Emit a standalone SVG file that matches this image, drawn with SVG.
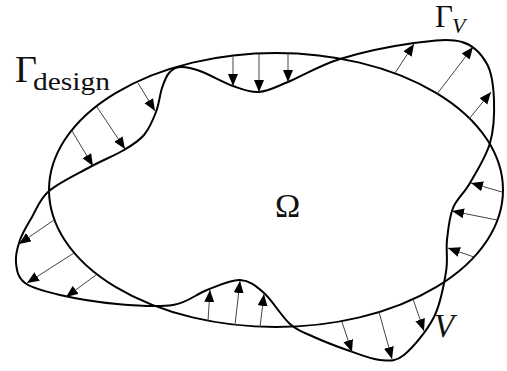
<svg xmlns="http://www.w3.org/2000/svg" width="507" height="371" viewBox="0 0 507 371">
<defs>
<style>
.curve{fill:none;stroke:#000;stroke-width:2}
.arr{stroke:#444;stroke-width:1;fill:none;marker-end:url(#ah)}
.lbl{font-family:"Liberation Serif","DejaVu Serif",serif;fill:#111}
</style>
<marker id="ah" markerUnits="userSpaceOnUse" markerWidth="13" markerHeight="11" refX="12" refY="5" orient="auto">
<path d="M0,0 L12,5 L0,10 Z" fill="#000"/>
</marker>
</defs>
<rect width="507" height="371" fill="#fff"/>
<g id="omega-boundary">
<ellipse class="curve" cx="276" cy="190" rx="227" ry="137"/>
</g>
<g id="perturbed-boundary">
<path class="curve" d="M49,191 C58.67,182.67 77.5,173.83 90,167 C102.5,160.17 115,155.33 124,150 C133,144.67 138.67,141.33 144,135 C149.33,128.67 153,119.83 156,112 C159,104.17 159.83,94.5 162,88 C164.17,81.5 166,76.5 169,73 C172,69.5 174.83,67.33 180,67 C185.17,66.67 191.17,67.83 200,71 C208.83,74.17 223.17,82.5 233,86 C242.83,89.5 249.83,92.67 259,92 C268.17,91.33 274.5,87.5 288,82 C301.5,76.5 319,65.5 340,59 C361,52.5 393.67,45.83 414,43 C434.33,40.17 449.83,38.5 462,42 C474.17,45.5 481.67,54.33 487,64 C492.33,73.67 493.5,86.83 494,100 C494.5,113.17 494,129.17 490,143 C486,156.83 476.17,172.17 470,183 C463.83,193.83 456.83,198.5 453,208 C449.17,217.5 448.17,229.33 447,240 C445.83,250.67 448.17,259.17 446,272 C443.83,284.83 441,303.17 434,317 C427,330.83 413,347.83 404,355 C395,362.17 389.5,360.83 380,360 C370.5,359.17 358,353.83 347,350 C336,346.17 323.5,341.33 314,337 C304.5,332.67 298.33,331.33 290,324 C281.67,316.67 272.33,300.33 264,293 C255.67,285.67 249.5,280.5 240,280 C230.5,279.5 218.17,285.83 207,290 C195.83,294.17 188,302.67 173,305 C158,307.33 135.83,305.67 117,304 C98.17,302.33 75.33,298.5 60,295 C44.67,291.5 32.33,288.33 25,283 C17.67,277.67 16.83,270.17 16,263 C15.17,255.83 17.33,247.67 20,240 C22.67,232.33 27.17,225.17 32,217 C36.83,208.83 39.33,199.33 49,191 Z"/>
</g>
<g id="connectors">
<line class="arr" x1="72" y1="131" x2="93" y2="166"/>
<line class="arr" x1="97" y1="107" x2="125" y2="149"/>
<line class="arr" x1="138" y1="83" x2="155" y2="111"/>
<line class="arr" x1="233" y1="57" x2="233" y2="86"/>
<line class="arr" x1="259" y1="54" x2="259" y2="92"/>
<line class="arr" x1="288" y1="54" x2="288" y2="82"/>
<line class="arr" x1="395" y1="73" x2="414" y2="44"/>
<line class="arr" x1="437" y1="94" x2="473" y2="47"/>
<line class="arr" x1="469" y1="119" x2="491" y2="92"/>
<line class="arr" x1="502" y1="192" x2="471" y2="183"/>
<line class="arr" x1="497" y1="220" x2="452" y2="211"/>
<line class="arr" x1="474" y1="257" x2="448" y2="248"/>
<line class="arr" x1="413" y1="299" x2="424" y2="331"/>
<line class="arr" x1="379" y1="312" x2="392" y2="359"/>
<line class="arr" x1="342" y1="322" x2="352" y2="352"/>
<line class="arr" x1="260" y1="327" x2="264" y2="294"/>
<line class="arr" x1="235" y1="325" x2="240" y2="281"/>
<line class="arr" x1="208" y1="321" x2="210" y2="290"/>
<line class="arr" x1="54" y1="220" x2="19" y2="244"/>
<line class="arr" x1="74" y1="253" x2="27" y2="283"/>
<line class="arr" x1="96" y1="275" x2="66" y2="297"/>
</g>
<g id="labels">
<text class="lbl" x="15" y="82" font-size="38">Γ</text>
<text class="lbl" x="33" y="90" font-size="25" textLength="77" lengthAdjust="spacingAndGlyphs">design</text>
<text class="lbl" x="435" y="27" font-size="31">Γ</text>
<text class="lbl" x="452" y="33" font-size="22" font-style="italic">V</text>
<text class="lbl" x="275" y="217" font-size="34">Ω</text>
<text class="lbl" x="434" y="337" font-size="33" font-style="italic">V</text>
</g>
</svg>
